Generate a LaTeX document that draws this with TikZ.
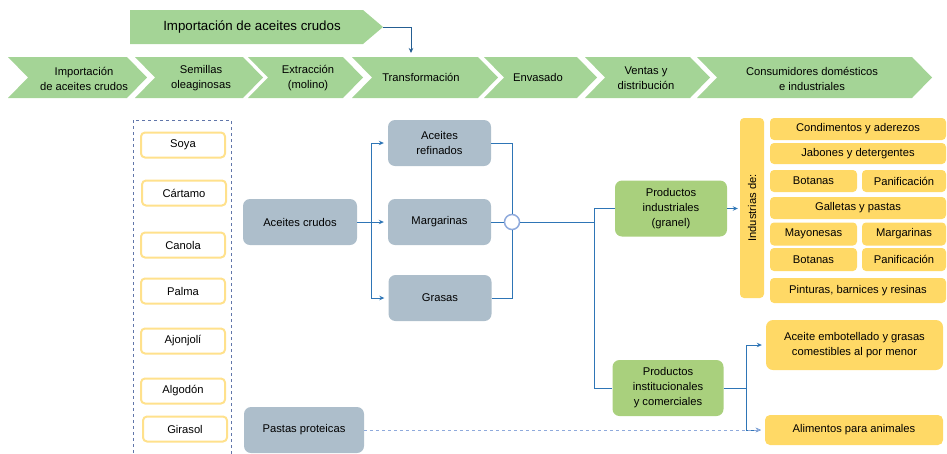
\documentclass[tikz,border=0pt]{standalone}
\usepackage{fontspec}
\setmainfont{Liberation Sans}
\definecolor{stagegreen}{RGB}{164, 212, 150}
\definecolor{prodgreen}{RGB}{169, 208, 125}
\definecolor{procgray}{RGB}{173, 190, 203}
\definecolor{useyellow}{RGB}{255, 217, 102}
\definecolor{seedyellow}{RGB}{255, 225, 140}
\definecolor{lineblue}{RGB}{46, 117, 182}
\definecolor{dashblue}{RGB}{143, 170, 220}
\definecolor{framblue}{RGB}{97, 118, 170}
\usetikzlibrary{arrows.meta, positioning, calc}

\tikzset{
  txt/.style={font=\fontsize{11.2}{15}\selectfont, align=center},
  seedbox/.style={txt, draw=seedyellow, line width=2pt, fill=white, rounded corners=4pt, minimum width=84pt, minimum height=25pt},
  procbox/.style={txt, fill=procgray, rounded corners=7pt, minimum width=103pt, minimum height=46pt},
  prodbox/.style={txt, fill=prodgreen, rounded corners=7pt, minimum width=112pt, minimum height=56pt},
  usebox/.style={txt, fill=useyellow, rounded corners=4pt, minimum height=22pt, inner sep=1pt},
  flow/.style={draw=lineblue, line width=0.8pt},
  flowarrow/.style={flow, -{Stealth[length=5pt, width=4.5pt]}, shorten >=4pt},
}

\begin{document}
\begin{tikzpicture}[x=1pt, y=-1pt]
  \useasboundingbox (0,0) rectangle (947,453);

  % ===== Value chain (top) =====
  \fill[stagegreen] (130,10) -- (363,10) -- (383,27) -- (363,44) -- (130,44) -- cycle;
  \node[font=\fontsize{13.3}{16}\selectfont] (importtop) at (252, 27) {Importación de aceites crudos};
  \coordinate (imptip) at (383, 27);

  \fill[stagegreen] (8,57) -- (127,57) -- (147,77.5) -- (127,98) -- (8,98) -- (28,77.5) -- cycle;
  \fill[stagegreen] (135,57) -- (243,57) -- (263,77.5) -- (243,98) -- (135,98) -- (155,77.5) -- cycle;
  \fill[stagegreen] (248,57) -- (343,57) -- (363,77.5) -- (343,98) -- (248,98) -- (268,77.5) -- cycle;
  \fill[stagegreen] (352,57) -- (478,57) -- (498,77.5) -- (478,98) -- (352,98) -- (372,77.5) -- cycle;
  \fill[stagegreen] (484,57) -- (577,57) -- (597,77.5) -- (577,98) -- (484,98) -- (504,77.5) -- cycle;
  \fill[stagegreen] (585,57) -- (690,57) -- (710,77.5) -- (690,98) -- (585,98) -- (605,77.5) -- cycle;
  \fill[stagegreen] (697,57) -- (912,57) -- (932,77.5) -- (912,98) -- (697,98) -- (717,77.5) -- cycle;

  \node[txt] (st1) at (84, 78.5) {Importación\\de aceites crudos};
  \node[txt] (st2) at (201, 78.5) {Semillas\\oleaginosas};
  \node[txt] (st3) at (308, 78.5) {Extracción\\(molino)};
  \node[txt] (st4) at (421, 77.5) {Transformación};
  \node[txt] (st5) at (538, 77.5) {Envasado};
  \node[txt] (st6) at (646, 78.5) {Ventas y\\distribución};
  \node[txt] (st7) at (812, 78.5) {Consumidores domésticos\\e industriales};
  \coordinate (transtop) at (411, 57);

  \draw[flowarrow, draw=lineblue!80!black] (imptip) -| (transtop);

  % ===== Oilseeds =====
  \draw[dashed, framblue, line width=0.8pt] (133,120) rectangle (231,460);
  \node[seedbox] (soya) at (183, 145) {Soya};
  \node[seedbox] (cartamo) at (184, 193) {Cártamo};
  \node[seedbox] (canola) at (183, 245) {Canola};
  \node[seedbox] (palma) at (183, 291) {Palma};
  \node[seedbox] (ajonjoli) at (183, 341) {Ajonjolí};
  \node[seedbox] (algodon) at (183, 391) {Algodón};
  \node[seedbox] (girasol) at (185, 429) {Girasol};

  % ===== Processing =====
  \node[procbox, minimum width=114pt] (crudos) at (300, 222) {Aceites crudos};
  \node[procbox] (refinados) at (439.5, 143) {Aceites\\refinados};
  \node[procbox] (margarinas) at (439.5, 222) {Margarinas};
  \node[procbox] (grasas) at (440, 298) {Grasas};
  \node[procbox, minimum width=120pt] (pastas) at (304, 430) {Pastas proteicas};

  % Arrows
  \draw[flowarrow] (crudos.east) -- ($(crudos.east)!0.45!(margarinas.west)$) |- (refinados.west);
  \draw[flowarrow] (crudos.east) -- (margarinas.west);
  \draw[flowarrow] (crudos.east) -- ($(crudos.east)!0.45!(margarinas.west)$) |- (grasas.west);

  % Join
  \node[circle, draw=dashblue, line width=1.5pt, fill=white, minimum size=15pt, inner sep=0pt] (junc) at (512, 222) {};
  \draw[flow] (refinados.east) -| (junc.north);
  \draw[flow] (grasas.east) -| (junc.south);
  \draw[flow] (margarinas.east) -- (junc.west);

  % ===== Products =====
  \node[prodbox] (prodind) at (671, 208.5) {Productos\\industriales\\(granel)};
  \node[prodbox, minimum width=111pt] (prodinst) at (668, 388) {Productos\\institucionales\\y comerciales};
  \coordinate (fork) at ($(prodind.west)+(-20,0)$);

  \draw[flow] (junc.east) -- (junc.east -| fork);
  \draw[flow] (prodind.west) -- (fork) |- (prodinst.west);

  % ===== Uses =====
  \node[usebox, minimum width=24pt, minimum height=180pt] (ind) at (752, 208) {\rotatebox{90}{Industrias de:}};
  \node[usebox, minimum width=176pt] (cond) at (858, 129) {Condimentos y aderezos};
  \node[usebox, minimum width=176pt, minimum height=21pt] (jabones) at (858, 153.5) {Jabones y detergentes};
  \node[usebox, minimum width=87pt] (botanasa) at (813.5, 181) {Botanas};
  \node[usebox, minimum width=84pt] (panifa) at (904, 181) {Panificación};
  \node[usebox, minimum width=176pt] (galletas) at (858, 208) {Galletas y pastas};
  \node[usebox, minimum width=87pt, minimum height=23pt] (mayonesas) at (813.5, 234) {Mayonesas};
  \node[usebox, minimum width=84pt, minimum height=23pt] (margind) at (904, 234) {Margarinas};
  \node[usebox, minimum width=87pt, minimum height=23pt] (botanasb) at (813.5, 259.5) {Botanas};
  \node[usebox, minimum width=84pt, minimum height=23pt] (panifb) at (904, 259.5) {Panificación};
  \node[usebox, minimum width=176pt, minimum height=25pt] (pinturas) at (858, 290.5) {Pinturas, barnices y resinas};

  \node[usebox, rounded corners=7pt, minimum width=177pt, minimum height=50pt] (embot) at (854.5, 345) {Aceite embotellado y grasas\\comestibles al por menor};
  \node[usebox, rounded corners=5pt, minimum width=178pt, minimum height=30pt] (alim) at (854, 430) {Alimentos para animales};

  % Arrows
  \draw[flowarrow, shorten >=2pt] (prodind.east) -- (prodind.east -| ind.west);
  \draw[flowarrow] (prodinst.east) -- ++(23,0) |- (embot.west);
  \draw[flowarrow] (prodinst.east) -- ++(23,0) |- (alim.west);
  \draw[dashed, dashblue, line width=1pt, -{Stealth[length=5pt, width=4.5pt, fill=lineblue]}, shorten >=4pt] (pastas.east) -- (alim.west);
\end{tikzpicture}
\end{document}
